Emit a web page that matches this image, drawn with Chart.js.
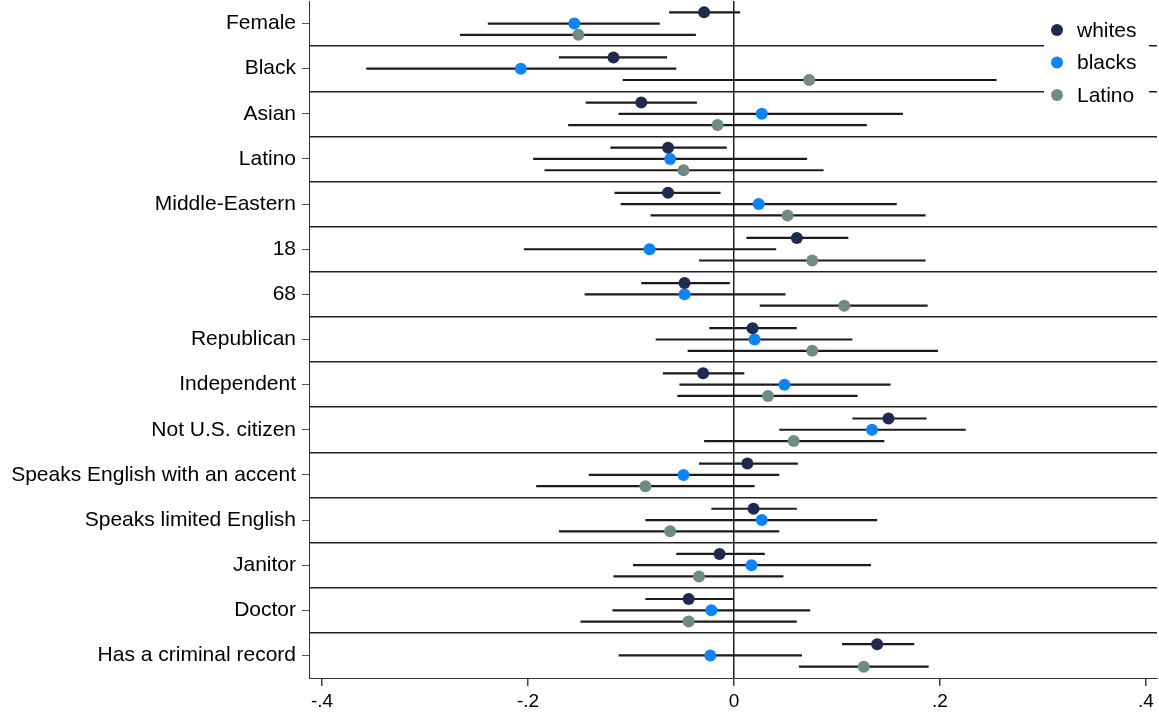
<!DOCTYPE html>
<html>
<head>
<meta charset="utf-8">
<script src="https://cdn.jsdelivr.net/npm/chart.js@4.4.1/dist/chart.umd.min.js"></script>
<style>
  html, body { margin: 0; padding: 0; background: #fff; }
</style>
</head>
<body>
<canvas id="chart" width="1159" height="713"></canvas>
<script>
const categories = ['Female', 'Black', 'Asian', 'Latino', 'Middle-Eastern', '18', '68', 'Republican',
    'Independent', 'Not U.S. citizen', 'Speaks English with an accent', 'Speaks limited English',
    'Janitor', 'Doctor', 'Has a criminal record'];

const whites   = [-0.029, -0.117, -0.090, -0.064, -0.064, 0.061, -0.048, 0.018, -0.030, 0.150, 0.013, 0.019, -0.014, -0.044, 0.139];
const whitesLo = [-0.063, -0.170, -0.144, -0.120, -0.116, 0.012, -0.090, -0.024, -0.069, 0.115, -0.034, -0.022, -0.056, -0.086, 0.105];
const whitesHi = [0.006, -0.065, -0.036, -0.007, -0.013, 0.111, -0.004, 0.061, 0.010, 0.187, 0.062, 0.061, 0.030, 0.000, 0.175];

const blacks   = [-0.155, -0.207, 0.027, -0.062, 0.024, -0.082, -0.048, 0.020, 0.049, 0.134, -0.049, 0.027, 0.017, -0.022, -0.023];
const blacksLo = [-0.239, -0.357, -0.112, -0.195, -0.110, -0.204, -0.145, -0.076, -0.053, 0.044, -0.141, -0.086, -0.098, -0.118, -0.112];
const blacksHi = [-0.072, -0.056, 0.164, 0.071, 0.158, 0.041, 0.050, 0.115, 0.152, 0.225, 0.044, 0.139, 0.133, 0.074, 0.066];

const latino   = [-0.151, 0.073, -0.016, -0.049, 0.052, 0.076, 0.107, 0.076, 0.033, 0.058, -0.086, -0.062, -0.034, -0.044, 0.126];
const latinoLo = [-0.266, -0.108, -0.161, -0.184, -0.081, -0.034, 0.025, -0.045, -0.055, -0.029, -0.192, -0.170, -0.117, -0.149, 0.063];
const latinoHi = [-0.037, 0.255, 0.129, 0.087, 0.186, 0.186, 0.188, 0.198, 0.120, 0.146, 0.020, 0.044, 0.048, 0.061, 0.189];

const xTicks = [-0.4, -0.2, 0, 0.2, 0.4];

const seriesNames = ['whites', 'blacks', 'Latino'];
const seriesColors = ['#1f2a50', '#0a84ff', '#6e8c84'];
const rowOffsets = [-0.25, 0, 0.25];
const FONT = '"Liberation Sans", Arial, Helvetica, sans-serif';

const series = [
    { est: whites, lo: whitesLo, hi: whitesHi },
    { est: blacks, lo: blacksLo, hi: blacksHi },
    { est: latino, lo: latinoLo, hi: latinoHi }
];

const datasets = [];
series.forEach((s, k) => {
    // confidence interval segments, broken by null points
    datasets.push({
        label: seriesNames[k] + ' CI',
        data: s.est.flatMap((v, i) => [
            { x: s.lo[i], y: i + 1 + rowOffsets[k] },
            { x: s.hi[i], y: i + 1 + rowOffsets[k] },
            { x: null, y: null }
        ]),
        showLine: true,
        spanGaps: false,
        borderColor: '#1b1b1b',
        borderWidth: 2.2,
        pointRadius: 0,
        order: 2
    });
});
series.forEach((s, k) => {
    datasets.push({
        label: seriesNames[k],
        data: s.est.map((v, i) => ({ x: v, y: i + 1 + rowOffsets[k] })),
        backgroundColor: seriesColors[k],
        borderColor: seriesColors[k],
        pointRadius: 6,
        pointBorderWidth: 0,
        order: 1
    });
});

function fmtTick(v) {
    if (Math.abs(v) < 1e-9) return '0';
    return (v < 0 ? '-' : '') + String(Math.abs(v)).replace(/^0/, '');
}

// drop the half-label padding chart.js adds at the axis ends
function noEdgePadding(s) {
    s.paddingTop = 0;
    s.paddingBottom = 0;
    s.paddingLeft = 0;
    s.paddingRight = 0;
}

const cornerLegend = {
    id: 'cornerLegend',
    afterDraw(chart) {
        const { ctx, chartArea } = chart;
        const x0 = chartArea.right - 113;
        const y0 = chartArea.top + 14;
        ctx.save();
        ctx.fillStyle = '#fff';
        ctx.fillRect(x0, y0, 105, 100);
        ctx.font = '21px ' + FONT;
        ctx.textBaseline = 'middle';
        seriesNames.forEach((name, k) => {
            const cy = y0 + 15 + k * 32.5;
            ctx.beginPath();
            ctx.arc(x0 + 13, cy, 6, 0, Math.PI * 2);
            ctx.fillStyle = seriesColors[k];
            ctx.fill();
            ctx.fillStyle = '#000';
            ctx.fillText(name, x0 + 33, cy + 1);
        });
        ctx.restore();
    }
};

const ctx = document.getElementById('chart').getContext('2d');
new Chart(ctx, {
    type: 'scatter',
    data: { datasets: datasets },
    plugins: [cornerLegend],
    options: {
        responsive: false,
        animation: false,
        devicePixelRatio: 1,
        layout: { autoPadding: false, padding: { top: 1, right: 2, left: 0, bottom: 0 } },
        plugins: {
            legend: { display: false },
            tooltip: { enabled: false }
        },
        scales: {
            x: {
                type: 'linear',
                min: -0.4126,
                max: 0.4107,
                afterBuildTicks: s => { s.ticks = xTicks.map(v => ({ value: v })); },
                afterFit: s => { s.height = 35; noEdgePadding(s); },
                border: { display: true, color: '#333', width: 1 },
                grid: {
                    color: c => (c.tick && Math.abs(c.tick.value) < 1e-9) ? '#222' : 'rgba(0,0,0,0)',
                    lineWidth: 1.5,
                    tickColor: '#444',
                    tickLength: 8
                },
                ticks: {
                    callback: v => fmtTick(v),
                    font: { family: FONT, size: 19 },
                    color: '#000',
                    padding: 4,
                    maxRotation: 0,
                    autoSkip: false
                }
            },
            y: {
                type: 'linear',
                reverse: true,
                min: 0.5,
                max: 15.5,
                position: 'left',
                afterBuildTicks: s => { s.ticks = categories.map((c, i) => ({ value: i + 1 })); },
                afterFit: s => { s.width = 309; noEdgePadding(s); },
                border: { display: true, color: '#333', width: 1 },
                grid: { drawOnChartArea: false, tickLength: 7, color: '#555' },
                ticks: {
                    callback: (v, i) => categories[i],
                    font: { family: FONT, size: 21 },
                    color: '#000',
                    padding: 6,
                    autoSkip: false
                }
            },
            y2: {
                type: 'linear',
                reverse: true,
                min: 0.5,
                max: 15.5,
                position: 'right',
                afterBuildTicks: s => { s.ticks = categories.slice(1).map((c, i) => ({ value: i + 1.5 })); },
                afterFit: s => { s.width = 0; noEdgePadding(s); },
                border: { display: false },
                grid: { drawTicks: false, color: '#222', lineWidth: 1.5 },
                ticks: { display: false }
            }
        }
    }
});
</script>
</body>
</html>
